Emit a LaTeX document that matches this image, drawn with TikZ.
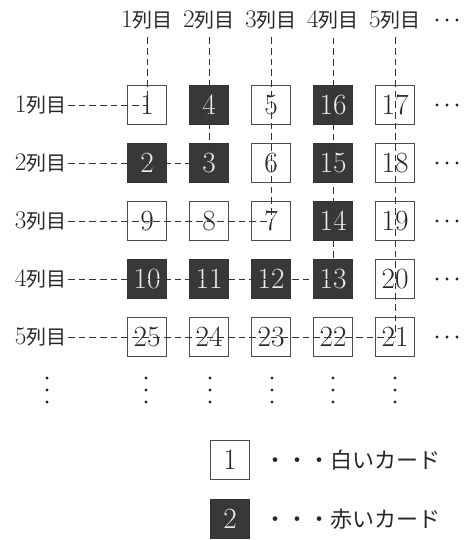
\documentclass[tikz,border=0pt]{standalone}
\usepackage{fontspec}
\newfontfamily\jp{Noto Sans CJK JP}
\begin{document}
\begin{tikzpicture}[x=0.75pt,y=-0.75pt,
  card/.style={minimum size=29.25pt, inner sep=0pt, line width=0.8pt, font=\fontsize{22}{22}\selectfont},
  wcard/.style={card, draw=black!70, fill=white, text=black!85},
  dcard/.style={card, draw=black!80, fill=black!78, text=white!92!black},
  guide/.style={draw=black!80, line width=0.6pt, dash pattern=on 5pt off 3pt},
  lab/.style={font=\fontsize{15}{18}\selectfont, text=black!85, inner sep=1pt},
  legtext/.style={font=\fontsize{16.5}{18}\selectfont\jp, text=black!85, inner sep=0pt},
  dotc/.style={fill=black!85}
]
\useasboundingbox (0,0) rectangle (475,540);
% column and row labels
\foreach \i in {1,...,5}
  \node[lab] (c\i) at ({147+62*(\i-1)},20) {{\fontsize{19}{18}\selectfont\i}\jp 列目};
\foreach \i in {1,...,5}
  \node[lab, anchor=east] (r\i) at (68,{105+58*(\i-1)}) {{\fontsize{19}{18}\selectfont\i}\jp 列目};
% cards
\foreach \n/\c/\r/\s in {1/1/1/wcard, 4/2/1/dcard, 5/3/1/wcard, 16/4/1/dcard, 17/5/1/wcard,
  2/1/2/dcard, 3/2/2/dcard, 6/3/2/wcard, 15/4/2/dcard, 18/5/2/wcard,
  9/1/3/wcard, 8/2/3/wcard, 7/3/3/wcard, 14/4/3/dcard, 19/5/3/wcard,
  10/1/4/dcard, 11/2/4/dcard, 12/3/4/dcard, 13/4/4/dcard, 20/5/4/wcard,
  25/1/5/wcard, 24/2/5/wcard, 23/3/5/wcard, 22/4/5/wcard, 21/5/5/wcard}
  \node[\s] (b\n) at ({147+62*(\c-1)},{105+58*(\r-1)}) {\n};
% guide lines
\draw[guide] (r1.east) -- (b1.center);
\draw[guide] (r2.east) -- (b3.center);
\draw[guide] (r3.east) -- (b7.center);
\draw[guide] (r4.east) -- (b13.center);
\draw[guide] (r5.east) -- (b21.center);
\draw[guide] ([yshift=-5pt]c1.south) -- (b1.center);
\draw[guide] ([yshift=-5pt]c2.south) -- (b3.center);
\draw[guide] ([yshift=-5pt]c3.south) -- (b7.center);
\draw[guide] ([yshift=-5pt]c4.south) -- (b13.center);
\draw[guide] ([yshift=-5pt]c5.south) -- (b21.center);
% horizontal ellipses
\foreach \y in {20,105,163,221,279,337}
  \foreach \x in {437,447,457}
    \fill[dotc] (\x,\y) circle[radius=1.2pt];
% vertical ellipses
\foreach \x in {47,146,210,272,333,395}
  \foreach \y in {378,390,402}
    \fill[dotc] (\x,\y) circle[radius=1.2pt];
% legend
\node[wcard] (k1) at (230,460) {1};
\node[dcard] (k2) at (230,519) {2};
\node[legtext, anchor=west] (t1) at (264,460) {・・・白いカード};
\node[legtext, anchor=west] (t2) at (264,519) {・・・赤いカード};
\end{tikzpicture}
\end{document}
